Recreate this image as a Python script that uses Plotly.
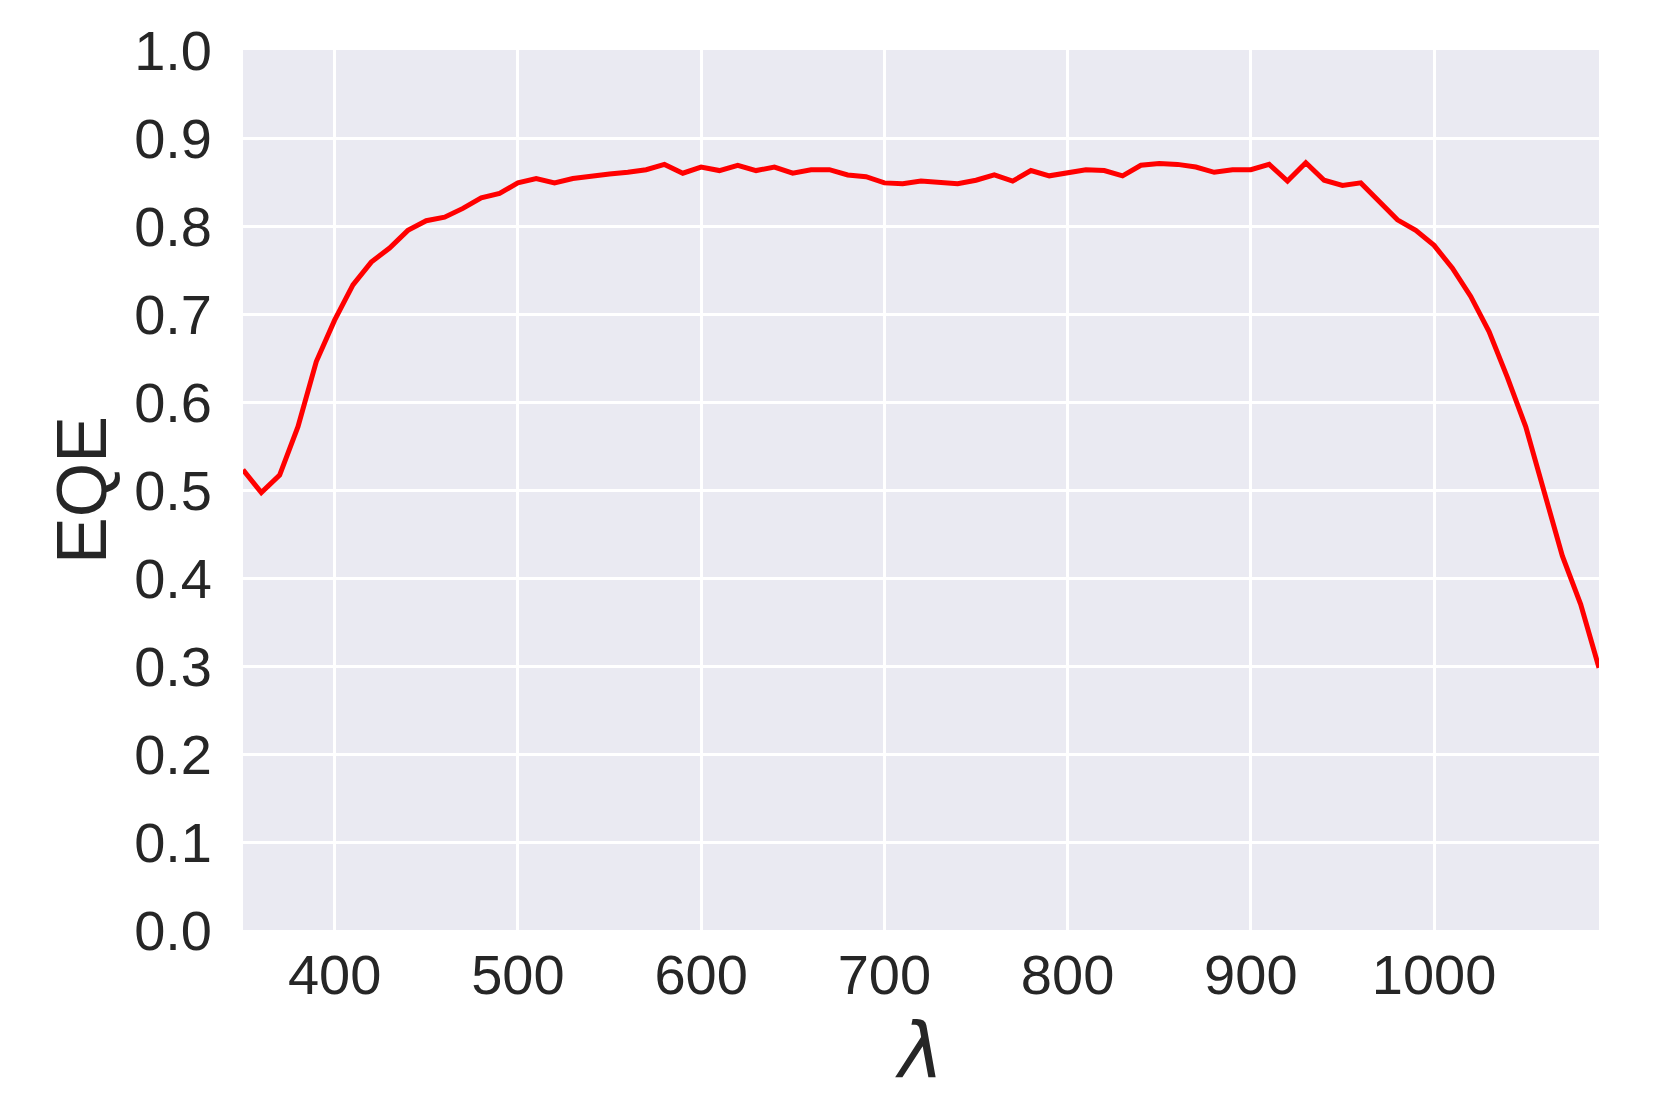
import plotly.graph_objects as go

# EQE spectrum (wavelength in nm)
wavelength = [350, 360, 370, 380, 390, 400, 410, 420, 430, 440, 450, 460, 470, 480, 490,
              500, 510, 520, 530, 540, 550, 560, 570, 580, 590, 600, 610, 620, 630, 640,
              650, 660, 670, 680, 690, 700, 710, 720, 730, 740, 750, 760, 770, 780, 790,
              800, 810, 820, 830, 840, 850, 860, 870, 880, 890, 900, 910, 920, 930, 940,
              950, 960, 970, 980, 990, 1000, 1010, 1020, 1030, 1040, 1050, 1060, 1070,
              1080, 1090]
eqe = [0.523, 0.497, 0.517, 0.572, 0.646, 0.693, 0.733, 0.759, 0.775, 0.795, 0.806, 0.810,
       0.820, 0.832, 0.837, 0.849, 0.854, 0.849, 0.854, 0.857, 0.859, 0.861, 0.864, 0.870,
       0.860, 0.867, 0.863, 0.869, 0.863, 0.867, 0.860, 0.864, 0.864, 0.858, 0.856, 0.849,
       0.848, 0.851, 0.850, 0.848, 0.852, 0.858, 0.851, 0.863, 0.857, 0.860, 0.864, 0.863,
       0.857, 0.869, 0.871, 0.870, 0.867, 0.861, 0.864, 0.864, 0.870, 0.851, 0.872, 0.852,
       0.846, 0.849, 0.828, 0.807, 0.795, 0.778, 0.752, 0.720, 0.680, 0.628, 0.572, 0.500,
       0.425, 0.370, 0.298]

x_ticks = [400, 500, 600, 700, 800, 900, 1000]
y_ticks = [0.0, 0.1, 0.2, 0.3, 0.4, 0.5, 0.6, 0.7, 0.8, 0.9, 1.0]

fig = go.Figure()
fig.add_trace(go.Scatter(
    x=wavelength,
    y=eqe,
    mode='lines',
    line=dict(color='red', width=5),
    showlegend=False
))

font_color = '#262626'

# the page adds ~8px of body margin, so margins are shifted to compensate
fig.update_layout(
    width=1659,
    height=1112,
    paper_bgcolor='white',
    plot_bgcolor='#EAEAF2',
    margin=dict(l=235, r=68, t=42, b=190),
    font=dict(family='Liberation Sans, Arial, sans-serif', size=56, color=font_color),
)

fig.update_xaxes(
    range=[350, 1090],
    tickvals=x_ticks,
    showgrid=True,
    gridcolor='white',
    gridwidth=3,
    zeroline=False,
    showline=False,
    ticks='',
    automargin=False,
    ticklabelstandoff=7,
    title=dict(text='<i>λ</i>', font=dict(family='DejaVu Sans', size=76, color=font_color), standoff=16),
)

fig.update_yaxes(
    range=[0, 1.0],
    tickvals=y_ticks,
    tickformat='.1f',
    showgrid=True,
    gridcolor='white',
    gridwidth=3,
    zeroline=False,
    showline=False,
    ticks='',
    automargin=False,
    ticklabelstandoff=30,
    title=dict(text='EQE', font=dict(size=70, color=font_color), standoff=4),
)

fig.write_html("out.html")
